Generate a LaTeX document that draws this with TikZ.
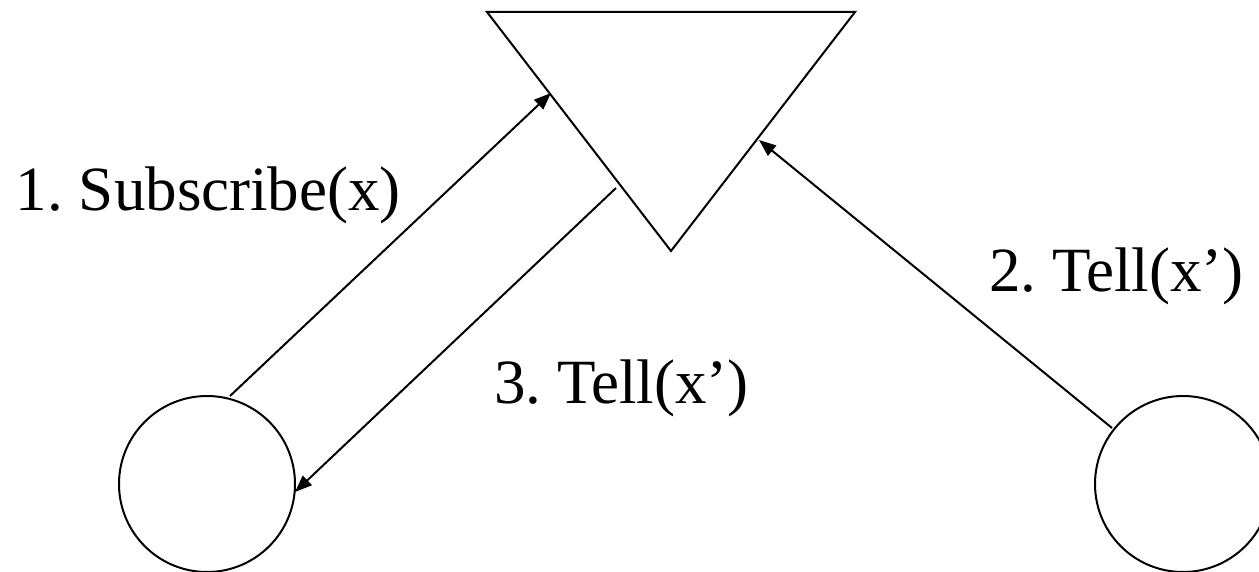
\documentclass[tikz,border=0pt]{standalone}
\usepackage{fontspec}
\setmainfont{Liberation Serif}
\usetikzlibrary{arrows.meta}
\frenchspacing
\begin{document}
\begin{tikzpicture}[x=1pt,y=-1pt,
  line width=2pt,
  agent/.style={draw,circle,minimum size=176pt,inner sep=0pt},
  lbl/.style={anchor=base west,inner sep=0pt,font=\fontsize{63}{75}\selectfont},
  msg/.style={-{Triangle[length=17pt,width=13pt]}}]
\useasboundingbox (0,0) rectangle (1259,572);
\clip (0,0) rectangle (1259,572);
% triangle
\coordinate (tl) at (487,12);
\coordinate (tr) at (855,12);
\coordinate (tb) at (671,251);
\draw[line join=miter] (tl) -- (tr) -- (tb) -- cycle;
% agents
\node[agent] (L) at (207,484) {};
\node[agent] (R) at (1183,484) {};
% connector ends
\coordinate (s1) at (230,396);
\coordinate (e1) at (551,93);
\coordinate (s3) at (616,188);
\coordinate (e3) at (295,492);
\coordinate (s2) at (1112,428);
\coordinate (e2) at (759,140);
\draw[msg] (s1) -- (e1);
\draw[msg] (s3) -- (e3);
\draw[msg] (s2) -- (e2);
% labels
\node[lbl] (t1) at (15,211) {1. Subscribe(x)};
\node[lbl] (t3) at (493,403) {3. Tell(x’)};
\node[lbl] (t2) at (988,291) {2. Tell(x’)};
\end{tikzpicture}
\end{document}
